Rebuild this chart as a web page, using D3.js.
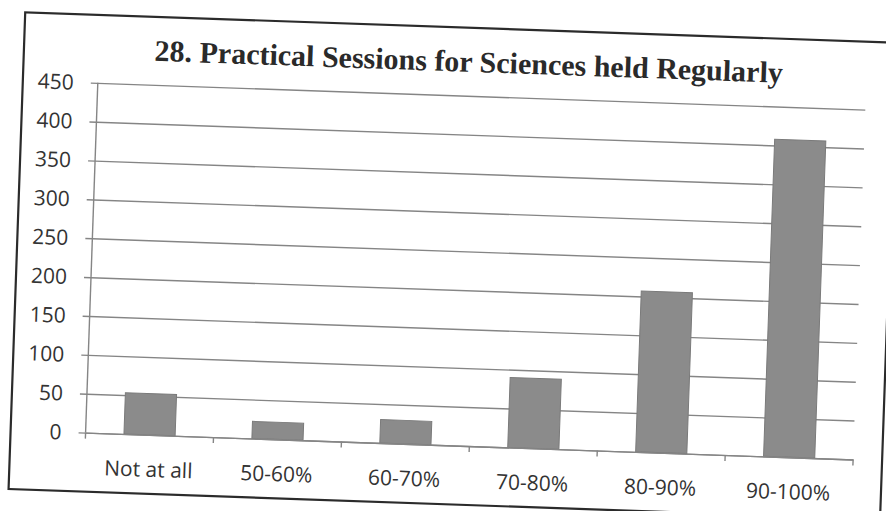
<!DOCTYPE html>
<meta charset="utf-8">
<script src="https://d3js.org/d3.v7.min.js"></script>
<style>
  body { margin: 0; background: #fff; }
</style>
<body>
<svg width="886" height="511"></svg>
<script>
    // values
    var categories = ["Not at all", "50-60%", "60-70%", "70-80%", "80-90%", "90-100%"];
    var values     = [53, 22, 30, 90, 207, 408];
    var yTicks     = [0, 50, 100, 150, 200, 250, 300, 350, 400, 450];
    var title      = "28. Practical Sessions for Sciences held Regularly";

    var W = 886, H = 511;
    var plot = {left: 92, right: 860, top: 95, bottom: 445};
    var tilt = 2; // the scan is a bit crooked

    var svg = d3.select('svg');
    svg.append('rect').attr('width', W).attr('height', H).attr('fill', '#fff');

    var g = svg.append('g').attr('transform', 'rotate(' + tilt + ',443,255)');

    // chart frame
    g.append('rect')
        .attr('x', 17).attr('y', 27)
        .attr('width', 872).attr('height', 477)
        .attr('fill', 'none').attr('stroke', '#2b2b2b').attr('stroke-width', 2.2);

    var x = d3.scaleBand().domain(categories).range([plot.left, plot.right]).paddingInner(0.6).paddingOuter(0.3);
    var xb = d3.scaleBand().domain(categories).range([plot.left, plot.right]);
    var y = d3.scaleLinear().domain([0, 450]).range([plot.bottom, plot.top]);

    // gridlines + y ticks
    var yAxis = d3.axisLeft(y).tickValues(yTicks).tickSize(-(plot.right - plot.left + 7)).tickPadding(0).tickFormat('');
    var ya = g.append('g').attr('transform', 'translate(' + (plot.left - 7) + ',0)').call(yAxis);
    ya.select('.domain').remove();
    ya.selectAll('line').attr('x1', 0)
        .attr('stroke', '#858585').attr('stroke-width', 1.4);

    // y labels
    g.selectAll('.ylab').data(yTicks).enter().append('text')
        .attr('class', 'ylab')
        .attr('x', plot.left - 24)
        .attr('y', function(d){ return y(d); })
        .attr('dy', '0.36em')
        .attr('text-anchor', 'end')
        .attr('font-family', '"Open Sans", sans-serif')
        .attr('font-size', '21px')
        .attr('fill', '#333')
        .text(function(d){ return d; });

    // y axis line
    g.append('line')
        .attr('x1', plot.left).attr('x2', plot.left)
        .attr('y1', plot.top).attr('y2', plot.bottom)
        .attr('stroke', '#858585').attr('stroke-width', 1.4);

    // bars
    g.selectAll('.bar').data(values).enter().append('rect')
        .attr('class', 'bar')
        .attr('x', function(d, i){ return x(categories[i]); })
        .attr('width', x.bandwidth())
        .attr('y', function(d){ return y(d); })
        .attr('height', function(d){ return y(0) - y(d); })
        .attr('fill', '#8b8b8b')
        .attr('stroke', '#7a7a7a').attr('stroke-width', 1);

    // x axis with boundary ticks
    var xAxis = d3.axisBottom(xb).tickSize(0).tickFormat('');
    var xa = g.append('g').attr('transform', 'translate(0,' + plot.bottom + ')').call(xAxis);
    xa.select('.domain').attr('stroke', '#858585').attr('stroke-width', 1.4);
    var bounds = categories.map(function(c){ return xb(c); }).concat([plot.right]);
    g.selectAll('.xtick').data(bounds).enter().append('line')
        .attr('class', 'xtick')
        .attr('x1', function(d){ return d; }).attr('x2', function(d){ return d; })
        .attr('y1', plot.bottom).attr('y2', plot.bottom + 6)
        .attr('stroke', '#858585').attr('stroke-width', 1.4);

    // x labels
    g.selectAll('.xlab').data(categories).enter().append('text')
        .attr('class', 'xlab')
        .attr('x', function(d){ return xb(d) + xb.bandwidth() / 2; })
        .attr('y', plot.bottom + 42)
        .attr('text-anchor', 'middle')
        .attr('font-family', '"Open Sans", sans-serif')
        .attr('font-size', '21px')
        .attr('fill', '#333')
        .text(function(d){ return d; });

    // title
    g.append('text')
        .attr('x', 462).attr('y', 71)
        .attr('text-anchor', 'middle')
        .attr('font-family', '"Liberation Serif", "Times New Roman", serif')
        .attr('font-weight', 'bold')
        .attr('font-size', '30px')
        .attr('fill', '#2a2a2a')
        .text(title);
</script>
</body>
